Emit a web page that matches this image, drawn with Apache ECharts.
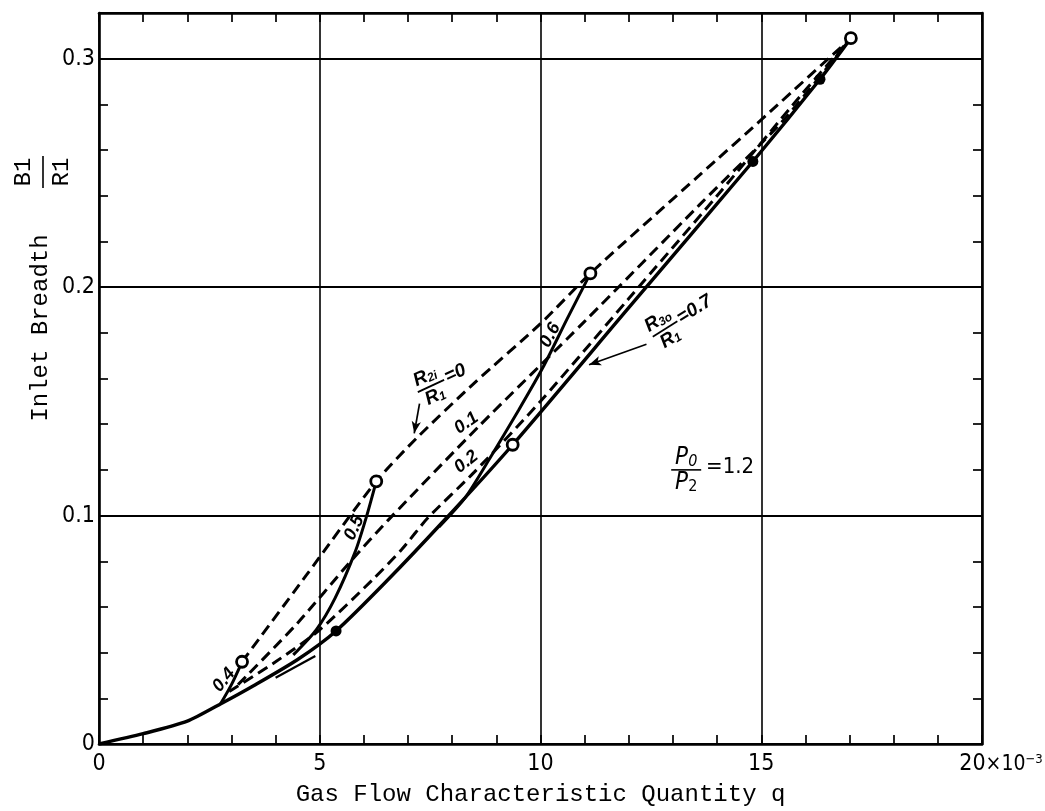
<!DOCTYPE html>
<html><head><meta charset="utf-8">
<script src="https://cdn.jsdelivr.net/npm/echarts@6/dist/echarts.min.js"></script>
<style>html,body{margin:0;padding:0;background:#fff}#c{width:1045px;height:811px}</style>
</head><body><div id="c"></div>
<script>
// ---- data (q in 10^-3, B1/R1) ----
const xMajor = [0, 5, 10, 15, 20];
const yMajor = [0, 0.1, 0.2, 0.3];
// dashed: R2i/R1 = 0, 0.1, 0.2
const dashR2i_0  = [[3.24,0.036],[4.7,0.074],[6.28,0.115],[7.2,0.134],[8.5,0.158],[10,0.184],[11.13,0.206],[13.6,0.249],[15.1,0.275],[17.03,0.309]];
const dashR2i_01 = [[3.15,0.026],[4.5,0.053],[5.7,0.080],[6.55,0.098],[8.6,0.139],[11,0.185],[13.6,0.236],[15.5,0.273],[17.03,0.309]];
const dashR2i_02 = [[2.95,0.023],[4.0,0.036],[5.0,0.050],[6.2,0.072],[6.85,0.085],[7.45,0.099],[8.5,0.119],[10,0.150],[12,0.195],[14,0.240],[15.9,0.284],[17.03,0.309]];
// solid: R3o/R1 = 0.4, 0.5, 0.6, 0.7
const solidR3o_04 = [[2.75,0.0175],[3.0,0.026],[3.24,0.036]];
const solidR3o_05 = [[4.4,0.039],[4.92,0.050],[5.35,0.064],[5.8,0.084],[6.05,0.099],[6.28,0.115]];
const solidR3o_06 = [[7.7,0.095],[8.3,0.108],[8.85,0.125],[9.5,0.146],[10.06,0.165],[10.6,0.186],[11.13,0.206]];
const solidR3o_07 = [[0,0],[1,0.0045],[2,0.010],[2.75,0.0175],[3.5,0.0255],[4.5,0.037],[5.37,0.0495],[6.5,0.071],[7.8,0.0975],[9.37,0.131],[12,0.191],[14.81,0.255],[16.33,0.291],[17.03,0.309]];
const strokeNearEnvelope = [[4.0,0.029],[4.9,0.0385]];
const openPoints   = [[3.24,0.036],[6.28,0.115],[9.37,0.131],[11.13,0.206],[17.03,0.309]];
const filledPoints = [[5.37,0.0495],[14.81,0.255],[16.33,0.291]];

const NARROW = "'DejaVu Sans Condensed','Liberation Sans Narrow','Liberation Sans',sans-serif";
const MONO = "'Liberation Mono','DejaVu Sans Mono',monospace";
const ANN = "'Liberation Sans','DejaVu Sans',sans-serif";

const chart = echarts.init(document.getElementById('c'), null, {renderer:'canvas'});

const axisBase = {
  type:'value',
  axisLine:{show:true, onZero:false, lineStyle:{color:'#000', width:2.6}},
  axisTick:{show:true, inside:true, length:9, lineStyle:{color:'#000', width:1.7}},
  splitLine:{show:false},
  minorTick:{show:false}
};

const lineS = (name, data, dashed, w) => ({
  name, type:'line', data, smooth:0.25, symbol:'none', xAxisIndex:0, yAxisIndex:0,
  lineStyle:{color:'#000', width:w||3, type: dashed ? [11,6] : 'solid', cap:'butt'},
  z:3, silent:true
});

const option = {
  animation:false,
  backgroundColor:'#fff',
  grid:{left:99, right:63, top:13, bottom:67, containLabel:false, outerBoundsMode:'none'},
  xAxis:[
    Object.assign({}, axisBase, {position:'bottom', min:0, max:20, interval:1,
      axisLabel:{show:true, margin:9, color:'#000', fontFamily:NARROW, fontSize:23, hideOverlap:false, showMaxLabel:true, showMinLabel:true,
        formatter:(v)=> v===20 ? '{pad|}{n|20}{e|×10}{s|−3}' : (xMajor.includes(v) ? String(v) : ''),
        rich:{pad:{width:38}, n:{fontFamily:NARROW, fontSize:23}, e:{fontFamily:NARROW, fontSize:21}, s:{fontFamily:NARROW, fontSize:13, verticalAlign:'top', lineHeight:22}}},
      name:'Gas Flow Characteristic Quantity q', nameLocation:'middle', nameGap:39,
      nameTextStyle:{fontFamily:MONO, fontSize:24, color:'#000'}}),
    Object.assign({}, axisBase, {position:'top', min:0, max:20, interval:1, axisLabel:{show:false}}),
    {type:'value', position:'bottom', min:0, max:20, interval:5, axisLine:{show:false}, axisTick:{show:false}, axisLabel:{show:false},
      splitLine:{show:true, lineStyle:{color:'#000', width:1.6}}}
  ],
  yAxis:[
    Object.assign({}, axisBase, {position:'left', min:0, max:0.32, interval:0.02,
      axisLabel:{show:true, margin:4, color:'#000', fontFamily:NARROW, fontSize:23,
        formatter:(v)=> (yMajor.some(t=>Math.abs(t-v)<1e-9)) ? (v===0 ? '0' : v.toFixed(1)) : ''}}),
    Object.assign({}, axisBase, {position:'right', min:0, max:0.32, interval:0.02, axisLabel:{show:false}}),
    {type:'value', position:'left', min:0, max:0.32, interval:0.1, axisLine:{show:false}, axisTick:{show:false}, axisLabel:{show:false},
      splitLine:{show:true, lineStyle:{color:'#000', width:2}}}
  ],
  series:[
    lineS('R2i/R1=0', dashR2i_0, true),
    lineS('R2i/R1=0.1', dashR2i_01, true),
    lineS('R2i/R1=0.2', dashR2i_02, true),
    lineS('R3o/R1=0.4', solidR3o_04, false),
    lineS('R3o/R1=0.5', solidR3o_05, false),
    lineS('R3o/R1=0.6', solidR3o_06, false),
    Object.assign(lineS('R3o/R1=0.7', solidR3o_07, false, 3.4), {
      markLine:{silent:true, symbol:['none','arrow'], symbolSize:[7,12], label:{show:false},
        lineStyle:{color:'#000', width:1.7, type:'solid'},
        data:[
          [{coord:[7.26,0.149]},{coord:[7.14,0.136]}],
          [{coord:[12.4,0.175]},{coord:[11.1,0.166]}]
        ]}
    }),
    lineS('stroke', strokeNearEnvelope, false, 2.2),
    {name:'open', type:'scatter', data:openPoints, symbol:'circle', symbolSize:11, z:5,
      itemStyle:{color:'#fff', borderColor:'#000', borderWidth:2.8, opacity:1}},
    {name:'filled', type:'scatter', data:filledPoints, symbol:'circle', symbolSize:11, z:5,
      itemStyle:{color:'#000', opacity:1}}
  ]
};
chart.setOption(option);

// ---- annotations, positioned through the chart's scales ----
const P = (q,b) => chart.convertToPixel({xAxisIndex:0, yAxisIndex:0}, [q,b]);
const deg = d => d*Math.PI/180;
function rotText(txt, q, b, angle, size){
  const p = P(q,b);
  return {type:'text', x:p[0], y:p[1], rotation:deg(angle), z:10,
    style:{text:txt, font:'italic bold '+(size||18)+'px '+ANN, fill:'#000', align:'center', verticalAlign:'middle'}};
}
function fracLabel(q, b, angle, top, topSub, bot, botSub, tail){
  const p = P(q,b);
  const rich = {a:{font:'italic bold 19px '+ANN, fill:'#000'}, b:{font:'italic bold 12px '+ANN, fill:'#000', verticalAlign:'bottom'}};
  return {type:'group', x:p[0], y:p[1], rotation:deg(angle), z:10, children:[
    {type:'text', x:-3, y:-11, style:{text:'{a|'+top+'}{b|'+topSub+'}', align:'center', verticalAlign:'middle', rich}},
    {type:'line', shape:{x1:-16, y1:0, x2:13, y2:0}, style:{stroke:'#000', lineWidth:1.8}},
    {type:'text', x:-2, y:11, style:{text:'{a|'+bot+'}{b|'+botSub+'}', align:'center', verticalAlign:'middle', rich}},
    {type:'text', x:15, y:-1, style:{text:tail, font:'italic bold 19px '+ANN, fill:'#000', align:'left', verticalAlign:'middle'}}
  ]};
}
const pf = P(13.3, 0.12);
const pe = P(13.75, 0.121);
chart.setOption({graphic:[
  rotText('0.4', 2.83, 0.028, 50),
  rotText('0.5', 5.78, 0.0946, 65),
  rotText('0.6', 10.22, 0.179, 62),
  rotText('0.1', 8.32, 0.1405, 35),
  rotText('0.2', 8.32, 0.1235, 38),
  fracLabel(7.55, 0.157, 25, 'R', '2i', 'R', '1', '=0'),
  fracLabel(12.85, 0.182, 32, 'R', '3o', 'R', '1', '=0.7'),
  {type:'group', x:pf[0], y:pf[1], z:10, children:[
    {type:'text', x:0, y:-12, style:{text:'{a|P}{b|0}', align:'center', verticalAlign:'middle',
      rich:{a:{font:'italic 24px '+NARROW, fill:'#000'}, b:{font:'italic 16px '+NARROW, fill:'#000', verticalAlign:'bottom'}}}},
    {type:'line', shape:{x1:-15, y1:0, x2:15, y2:0}, style:{stroke:'#000', lineWidth:1.6}},
    {type:'text', x:0, y:13, style:{text:'{a|P}{b|2}', align:'center', verticalAlign:'middle',
      rich:{a:{font:'italic 24px '+NARROW, fill:'#000'}, b:{font:'16px '+NARROW, fill:'#000', verticalAlign:'bottom'}}}}
  ]},
  {type:'text', x:pe[0], y:pe[1], z:10, style:{text:'=1.2', font:'22px '+NARROW, fill:'#000', align:'left', verticalAlign:'middle'}},
  // y axis title (outside the plot, placed in page pixels)
  {type:'text', x:41, y:328, rotation:Math.PI/2, z:10, style:{text:'Inlet Breadth', font:'24px '+MONO, fill:'#000', align:'center', verticalAlign:'middle'}},
  {type:'group', x:43, y:172, rotation:Math.PI/2, z:10, children:[
    {type:'text', x:0, y:-19, style:{text:'B1', font:'24px '+MONO, fill:'#000', align:'center', verticalAlign:'middle'}},
    {type:'line', shape:{x1:-16, y1:0, x2:16, y2:0}, style:{stroke:'#000', lineWidth:1.6}},
    {type:'text', x:0, y:19, style:{text:'R1', font:'24px '+MONO, fill:'#000', align:'center', verticalAlign:'middle'}}
  ]}
]});
</script></body></html>
